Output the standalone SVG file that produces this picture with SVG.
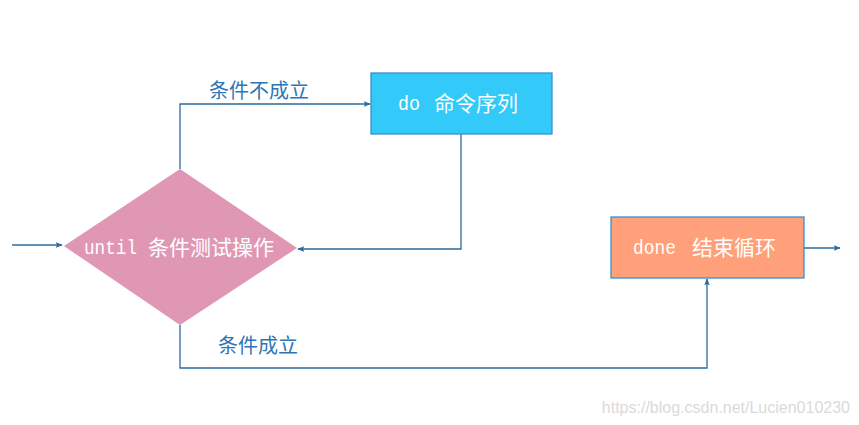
<svg xmlns="http://www.w3.org/2000/svg" width="859" height="425" viewBox="0 0 859 425">
<defs>
<marker id="arr" viewBox="0 0 10 10" refX="9" refY="5" markerWidth="7" markerHeight="7" orient="auto" markerUnits="userSpaceOnUse">
<path d="M0,1 L10,5 L0,9 L2,5 Z" fill="#2A6BA0"/>
</marker>
<style>
.ln{fill:none;stroke:#2A6BA0;stroke-width:1.3}
.nt{font-family:"Noto Sans CJK SC",sans-serif;font-size:21px;fill:#ffffff}
.la{font-family:"Liberation Mono",monospace;font-size:20px;fill:#ffffff}
.lb{font-family:"Noto Sans CJK SC",sans-serif;font-size:20px;fill:#2E75B6}
.box{stroke:#3A8FD0;stroke-width:1.3}
</style>
</defs>
<rect width="859" height="425" fill="#ffffff"/>
<g id="connectors">
<path class="ln" d="M12,245 H62" marker-end="url(#arr)"/>
<path class="ln" d="M180,169 V104 H370" marker-end="url(#arr)"/>
<path class="ln" d="M461,134 V249 H298" marker-end="url(#arr)"/>
<path class="ln" d="M180,325 V368 H707 V279" marker-end="url(#arr)"/>
<path class="ln" d="M804,248 H840" marker-end="url(#arr)"/>
</g>
<g id="label-no"><text class="lb" x="209" y="98">条件不成立</text></g>
<g id="label-yes"><text class="lb" x="218" y="353">条件成立</text></g>
<g id="until">
<polygon points="64,246 180,169 297,248 180,325" fill="#E097B4"/>
<text class="la" x="84" y="254" textLength="53" lengthAdjust="spacingAndGlyphs">until</text>
<text class="nt" x="148" y="255">条件测试操作</text>
</g>
<g id="do">
<rect class="box" x="371" y="73" width="181" height="61" fill="#33C9F8"/>
<text class="la" x="398" y="110" textLength="22" lengthAdjust="spacingAndGlyphs">do</text>
<text class="nt" x="434" y="111">命令序列</text>
</g>
<g id="done">
<rect class="box" x="611" y="217" width="193" height="61" fill="#FFA07A"/>
<text class="la" x="633" y="254" textLength="43" lengthAdjust="spacingAndGlyphs">done</text>
<text class="nt" x="692" y="255">结束循环</text>
</g>
<text x="850" y="413" text-anchor="end" font-family="Liberation Sans,sans-serif" font-size="16" fill="#DADADA">https://blog.csdn.net/Lucien010230</text>
</svg>
